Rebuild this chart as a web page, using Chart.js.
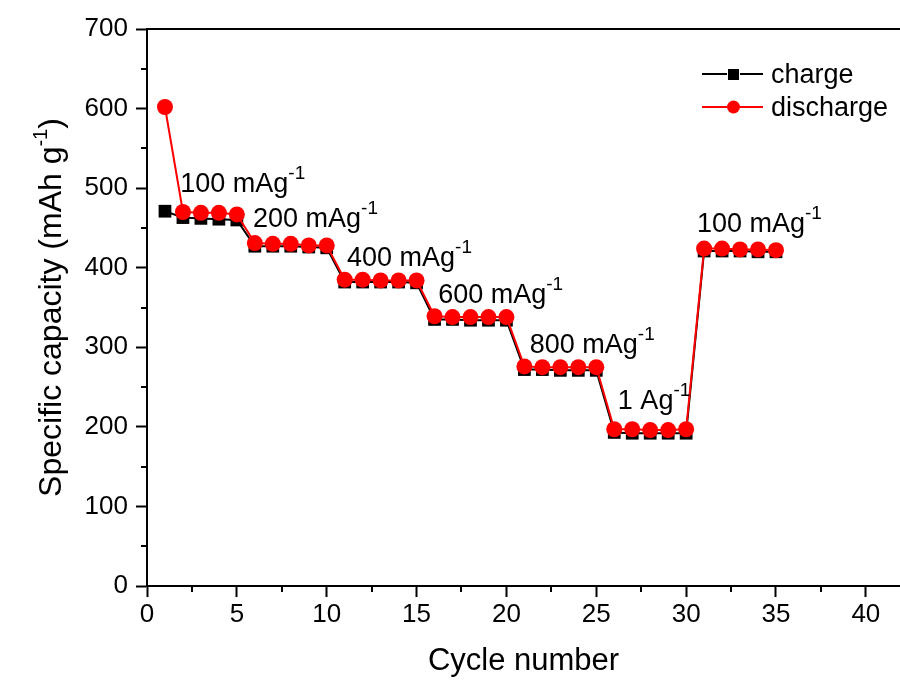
<!DOCTYPE html>
<html>
<head>
<meta charset="utf-8">
<script src="https://cdn.jsdelivr.net/npm/chart.js@4.4.0/dist/chart.umd.min.js"></script>
<style>
    html, body { margin: 0; padding: 0; background: #fff; }
</style>
</head>
<body>
<canvas id="rateChart" width="900" height="684"></canvas>
<script>
// cycle numbers and capacities (mAh g-1)
const cycles = [1, 2, 3, 4, 5, 6, 7, 8, 9, 10, 11, 12, 13, 14, 15, 16, 17, 18, 19, 20,
    21, 22, 23, 24, 25, 26, 27, 28, 29, 30, 31, 32, 33, 34, 35];
const chargeCap = [471, 463, 462, 461, 460, 427, 427, 427, 426, 425, 382, 382, 382, 382, 381,
    335, 335, 334, 334, 334, 272, 272, 271, 271, 271, 193, 192, 192, 192, 192,
    421, 421, 421, 420, 420];
const dischargeCap = [602, 470, 469, 469, 467, 431, 430, 430, 428, 428, 385, 385, 384, 384, 384,
    339, 338, 338, 338, 338, 276, 275, 275, 275, 275, 197, 197, 196, 196, 197,
    424, 424, 423, 423, 422];

const xTickValues = [0, 5, 10, 15, 20, 25, 30, 35, 40];
const xMinorValues = [2.5, 7.5, 12.5, 17.5, 22.5, 27.5, 32.5, 37.5];
const yTickValues = [0, 100, 200, 300, 400, 500, 600, 700];
const yMinorValues = [50, 150, 250, 350, 450, 550, 650];

const rateLabels = ['100 mAg', '200 mAg', '400 mAg', '600 mAg', '800 mAg', '1 Ag', '100 mAg'];

// where each rate label sits, in data units (left edge / baseline)
const labelAnchors = [
    { x: 1.85, y: 495 }, { x: 5.9, y: 451 }, { x: 11.13, y: 402 }, { x: 16.2, y: 356 },
    { x: 21.3, y: 293 }, { x: 26.2, y: 222 }, { x: 30.6, y: 445 }
];

const FONT = "'Liberation Sans', Arial, sans-serif";

function drawSupText(ctx, x, y, main, sup, size, supSize, rise) {
    ctx.font = `${size}px ${FONT}`;
    ctx.fillText(main, x, y);
    const w = ctx.measureText(main).width;
    ctx.font = `${supSize}px ${FONT}`;
    ctx.fillText(sup, x + w, y - rise);
    return w + ctx.measureText(sup).width;
}

const decorPlugin = {
    id: 'decor',
    afterDraw(chart) {
        const { ctx, chartArea: a, scales: { x, y } } = chart;
        ctx.save();
        ctx.strokeStyle = '#000';
        ctx.lineWidth = 2;

        // top frame line (right side of the frame is off the picture)
        ctx.beginPath();
        ctx.moveTo(a.left - 1, a.top);
        ctx.lineTo(a.right, a.top);
        ctx.stroke();

        // minor ticks
        ctx.beginPath();
        xMinorValues.forEach(v => {
            const px = Math.round(x.getPixelForValue(v));
            ctx.moveTo(px, a.bottom);
            ctx.lineTo(px, a.bottom + 6);
        });
        yMinorValues.forEach(v => {
            const py = Math.round(y.getPixelForValue(v));
            ctx.moveTo(a.left - 6, py);
            ctx.lineTo(a.left, py);
        });
        ctx.stroke();

        ctx.fillStyle = '#000';
        ctx.textBaseline = 'alphabetic';
        ctx.textAlign = 'left';

        // rate labels
        rateLabels.forEach((txt, i) => {
            const px = x.getPixelForValue(labelAnchors[i].x);
            const py = y.getPixelForValue(labelAnchors[i].y);
            drawSupText(ctx, px, py, txt, '-1', 27, 19, 13);
        });

        // y axis title, rotated
        ctx.save();
        ctx.translate(61, (a.top + a.bottom) / 2);
        ctx.rotate(-Math.PI / 2);
        ctx.font = `32px ${FONT}`;
        const mainW = ctx.measureText('Specific capacity (mAh g').width;
        ctx.font = `20px ${FONT}`;
        const supW = ctx.measureText('-1').width;
        ctx.font = `32px ${FONT}`;
        const closeW = ctx.measureText(')').width;
        const start = -(mainW + supW + closeW) / 2;
        const used = drawSupText(ctx, start, 0, 'Specific capacity (mAh g', '-1', 32, 20, 14);
        ctx.font = `32px ${FONT}`;
        ctx.fillText(')', start + used, 0);
        ctx.restore();

        // legend
        const items = [
            { ds: chart.data.datasets[0], y: 74 },
            { ds: chart.data.datasets[1], y: 107 }
        ];
        items.forEach(it => {
            ctx.strokeStyle = it.ds.borderColor;
            ctx.lineWidth = 2;
            ctx.beginPath();
            ctx.moveTo(702, it.y);
            ctx.lineTo(727, it.y);
            ctx.moveTo(740, it.y);
            ctx.lineTo(763, it.y);
            ctx.stroke();
            ctx.fillStyle = it.ds.backgroundColor;
            if (it.ds.pointStyle === 'rect') {
                ctx.fillRect(728, it.y - 5, 11, 11);
            } else {
                ctx.beginPath();
                ctx.arc(733.5, it.y, 6.5, 0, Math.PI * 2);
                ctx.fill();
            }
            ctx.fillStyle = '#000';
            ctx.font = `27px ${FONT}`;
            ctx.fillText(it.ds.label, 771, it.y + 9);
        });

        ctx.restore();
    }
};

new Chart(document.getElementById('rateChart'), {
    type: 'line',
    data: {
        datasets: [{
            label: 'charge',
            data: cycles.map((c, i) => ({ x: c, y: chargeCap[i] })),
            borderColor: '#000000',
            backgroundColor: '#000000',
            borderWidth: 2,
            pointStyle: 'rect',
            pointRadius: 9,
            pointBorderWidth: 0,
            order: 1
        }, {
            label: 'discharge',
            data: cycles.map((c, i) => ({ x: c, y: dischargeCap[i] })),
            borderColor: '#ff0000',
            backgroundColor: '#ff0000',
            borderWidth: 2,
            pointStyle: 'circle',
            pointRadius: 8,
            pointBorderWidth: 0,
            order: 0
        }]
    },
    options: {
        responsive: false,
        devicePixelRatio: 1,
        animation: false,
        layout: { autoPadding: false, padding: { top: 29, right: 0, left: 0, bottom: 0 } },
        plugins: { legend: { display: false }, tooltip: { enabled: false } },
        scales: {
            x: {
                type: 'linear',
                min: 0,
                max: 41.9,
                afterFit: s => { s.height = 98; s.paddingLeft = 0; s.paddingRight = 0; },
                afterBuildTicks: s => { s.ticks = xTickValues.map(v => ({ value: v })); },
                ticks: { color: '#000', font: { family: FONT, size: 26 }, padding: 2, includeBounds: false, maxRotation: 0 },
                grid: { display: true, drawOnChartArea: false, drawTicks: true, tickLength: 11, tickWidth: 2, tickColor: '#000' },
                border: { display: true, color: '#000', width: 2 },
                title: { display: true, text: 'Cycle number', color: '#000', font: { family: FONT, size: 31 }, padding: 4 }
            },
            y: {
                type: 'linear',
                min: 0,
                max: 700,
                afterFit: s => { s.width = 147; s.paddingTop = 0; s.paddingBottom = 0; },
                afterBuildTicks: s => { s.ticks = yTickValues.map(v => ({ value: v })); },
                ticks: { color: '#000', font: { family: FONT, size: 26 }, padding: 8 },
                grid: { display: true, drawOnChartArea: false, drawTicks: true, tickLength: 11, tickWidth: 2, tickColor: '#000' },
                border: { display: true, color: '#000', width: 2 }
            }
        }
    },
    plugins: [decorPlugin]
});
</script>
</body>
</html>
